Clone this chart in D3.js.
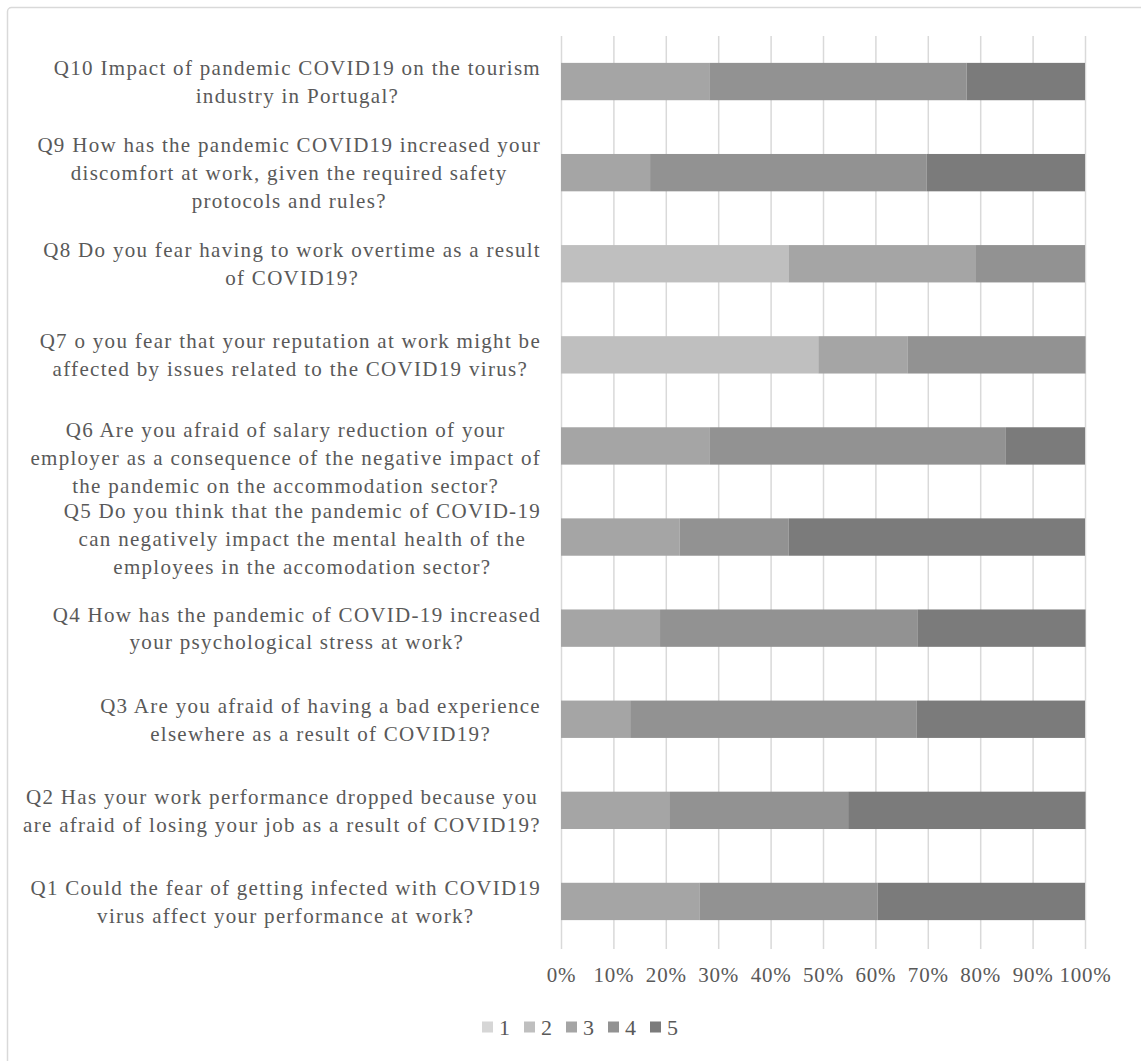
<!DOCTYPE html>
<html>
<head>
<meta charset="utf-8">
<script src="https://cdn.jsdelivr.net/npm/d3@7"></script>
<style>
  body { margin: 0; background: #fff; }
  svg { display: block; }
  text { font-family: "Liberation Serif", "Times New Roman", serif; fill: #595959; }
</style>
</head>
<body>
<svg id="chart" width="1141" height="1061"></svg>
<script>
// Survey questions, top to bottom, each split into its display lines
const questions = [
  ["Q10 Impact of pandemic COVID19 on the tourism", "industry in Portugal?"],
  ["Q9 How has the pandemic COVID19 increased your", "discomfort at work, given the required safety", "protocols and rules?"],
  ["Q8 Do you fear having to work overtime as a result", "of COVID19?"],
  ["Q7 o you fear that your reputation at work might be", "affected by issues related to the COVID19 virus?"],
  ["Q6 Are you afraid of salary reduction of your", "employer as a consequence of the negative impact of", "the pandemic on the accommodation sector?"],
  ["Q5 Do you think that the pandemic of COVID-19", "can negatively impact the mental health of the", "employees in the accomodation sector?"],
  ["Q4 How has the pandemic of COVID-19 increased", "your psychological stress at work?"],
  ["Q3 Are you afraid of having a bad experience", "elsewhere as a result of COVID19?"],
  ["Q2 Has your work performance dropped because you", "are afraid of losing your job as a result of COVID19?"],
  ["Q1 Could the fear of getting infected with COVID19", "virus affect your performance at work?"]
];
const questionIds = ["Q10", "Q9", "Q8", "Q7", "Q6", "Q5", "Q4", "Q3", "Q2", "Q1"];

// Share of answers (%) for each Likert level, in the same order as questionIds
const level1 = [0, 0, 0, 0, 0, 0, 0, 0, 0, 0];
const level2 = [0, 0, 43.4, 49.1, 0, 0, 0, 0, 0, 0];
const level3 = [28.3, 17.0, 35.8, 17.0, 28.3, 22.6, 18.9, 13.2, 20.8, 26.4];
const level4 = [49.1, 52.8, 20.8, 34.0, 56.6, 20.8, 49.1, 54.7, 34.0, 34.0];
const level5 = [22.6, 30.2, 0, 0, 15.1, 56.6, 32.1, 32.1, 45.3, 39.6];

const levelNames = ["1", "2", "3", "4", "5"];
const levelColors = ["#d6d6d6", "#bfbfbf", "#a5a5a5", "#929292", "#7b7b7b"];
const tickValues = [0, 10, 20, 30, 40, 50, 60, 70, 80, 90, 100];

const rows = questionIds.map((id, i) => ({
  id,
  "1": level1[i], "2": level2[i], "3": level3[i], "4": level4[i], "5": level5[i]
}));

const fontSize = "21px";
const letterSpacing = "1.3px";

const svg = d3.select("#chart");

// Outer chart frame
svg.append("rect")
  .attr("x", 7.5).attr("y", 7.5)
  .attr("width", 1160).attr("height", 1080)
  .attr("rx", 4)
  .attr("fill", "none")
  .attr("stroke", "#d9d9d9")
  .attr("stroke-width", 1.5);

const plot = { left: 561, right: 1085, top: 36, bottom: 947 };

const x = d3.scaleLinear().domain([0, 100]).range([plot.left, plot.right]);
const y = d3.scaleBand().domain(questionIds).range([plot.top, plot.bottom]).paddingInner(0.59).paddingOuter(0.295);
const color = d3.scaleOrdinal().domain(levelNames).range(levelColors);

// Vertical gridlines
svg.append("g")
  .attr("transform", `translate(0,${plot.bottom + 2})`)
  .call(d3.axisBottom(x).tickValues(tickValues).tickSize(-(plot.bottom + 2 - plot.top)).tickFormat(""))
  .call(g => g.select(".domain").remove())
  .call(g => g.selectAll("line").attr("stroke", "#d9d9d9").attr("stroke-width", 1.5));

// Stacked bars
const stacked = d3.stack().keys(levelNames)(rows);
svg.append("g").selectAll("g")
  .data(stacked)
  .join("g")
  .attr("fill", d => color(d.key))
  .selectAll("rect")
  .data(d => d)
  .join("rect")
  .attr("x", d => x(d[0]))
  .attr("y", d => y(d.data.id))
  .attr("width", d => x(d[1]) - x(d[0]))
  .attr("height", y.bandwidth());

// Percentage tick labels
svg.append("g")
  .attr("transform", `translate(0,${plot.bottom})`)
  .call(d3.axisBottom(x).tickValues(tickValues).tickSize(0).tickPadding(20).tickFormat(d => d + "%"))
  .call(g => g.select(".domain").remove())
  .call(g => g.selectAll("text")
    .style("font-family", "'Liberation Serif', 'Times New Roman', serif")
    .style("font-size", fontSize)
    .style("letter-spacing", "0.8px")
    .attr("fill", "#595959"));

// Question labels: each block centred on itself, widest line ending next to the axis
const labelRight = 541;
const lineHeight = 28;
const labelNudge = { Q6: 12, Q5: 2 };
const labels = svg.append("g");
questions.forEach((lines, i) => {
  const id = questionIds[i];
  const cy = y(id) + y.bandwidth() / 2 + (labelNudge[id] || 0);
  const g = labels.append("g");
  const t = g.append("text")
    .attr("text-anchor", "middle")
    .style("font-size", fontSize)
    .style("letter-spacing", letterSpacing);
  lines.forEach((ln, j) => {
    t.append("tspan")
      .attr("x", 0)
      .attr("y", (j - (lines.length - 1) / 2) * lineHeight)
      .attr("dy", "0.35em")
      .text(ln);
  });
  const w = d3.max(t.selectAll("tspan").nodes(), n => n.getBBox().width);
  g.attr("transform", `translate(${labelRight - w / 2},${cy})`);
});

// Legend
const legend = svg.append("g").attr("transform", "translate(482,1027)");
levelNames.forEach((name, i) => {
  const item = legend.append("g").attr("transform", `translate(${i * 42},0)`);
  item.append("rect")
    .attr("x", 0).attr("y", -5.5)
    .attr("width", 11).attr("height", 11)
    .attr("fill", color(name));
  item.append("text")
    .attr("x", 17).attr("y", 0).attr("dy", "0.35em")
    .style("font-size", "22px")
    .text(name);
});
</script>
</body>
</html>
